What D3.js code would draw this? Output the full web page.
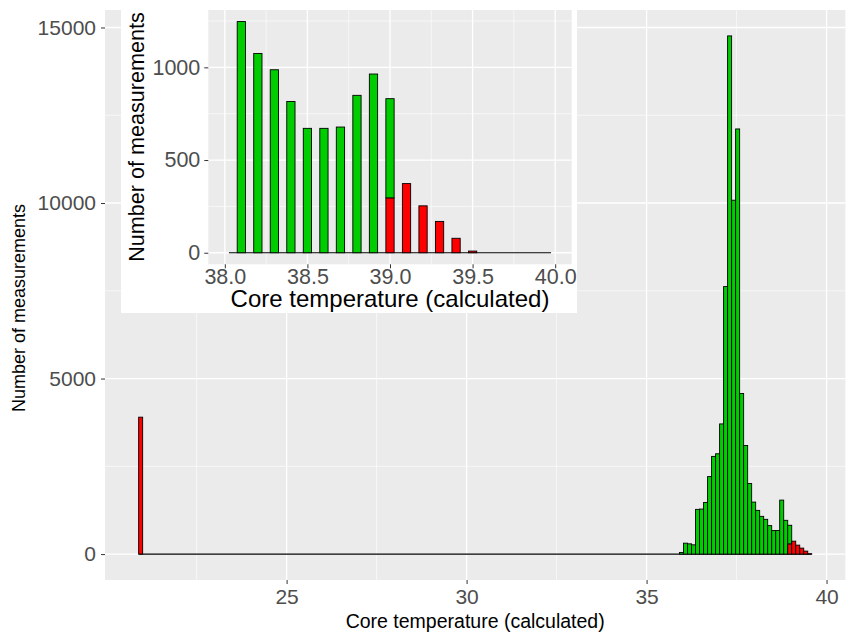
<!DOCTYPE html>
<html>
<head>
<meta charset="utf-8">
<script src="https://cdn.jsdelivr.net/npm/d3@7"></script>
<style>
    body { margin: 0; background: #fff; }
    svg { display: block; font-family: "Liberation Sans", Arial, sans-serif; }
</style>
</head>
<body>
<div id="chart"></div>
<script>
// main histogram: bins of equal width, starting at the lowest reading
const MAIN_BIN_START = 20.89;
const MAIN_BIN_WIDTH = 0.1113;
const MAIN_BIN_COUNT = 168;

// the single bin of implausible low readings (bin 0)
const lowBinIndex = [0];
const lowBinRed = [3900];

// the bins around normal body temperature, first one is bin 135
const TAIL_FIRST_BIN = 135;
const tailGreen = [47, 311, 292, 264, 1274, 1283, 1472, 2208, 2783, 2858, 3708, 7620, 14760, 10080,
    12110, 4575, 3094, 2009, 1481, 1245, 1075, 990, 811, 670, 670, 1538, 962, 529, 0, 0, 0, 0, 0];
const tailRed = [0, 0, 0, 0, 0, 0, 0, 0, 0, 0, 0, 0, 0, 0,
    0, 0, 0, 0, 0, 0, 0, 0, 0, 0, 0, 0, 0, 292, 368, 255, 170, 85, 10];

const mainXTicks = [25, 30, 35, 40];
const mainYTicks = [0, 5000, 10000, 15000];

// inset: zoom on 38 - 40 degrees, bins 0.05 wide
const INSET_BIN_WIDTH = 0.05;
const INSET_RANGE = [38.025, 39.975];
const insetTemps = [38.1, 38.2, 38.3, 38.4, 38.5, 38.6, 38.7, 38.8, 38.9, 39.0, 39.1, 39.2, 39.3, 39.4, 39.5];
const insetGreen = [1247, 1075, 987, 816, 671, 671, 678, 849, 964, 535, 0, 0, 0, 0, 0];
const insetRed = [0, 0, 0, 0, 0, 0, 0, 0, 0, 296, 373, 253, 169, 78, 9];

const insetXTicks = [38.0, 38.5, 39.0, 39.5, 40.0];
const insetYTicks = [0, 500, 1000];

const GREEN = '#00cd00';
const RED = '#ff0000';
const PANEL = '#ebebeb';

const W = 847, H = 632;

let svg = d3.select('#chart').append('svg')
    .attr('width', W)
    .attr('height', H);

// ggplot style 5% padding on a continuous range
let expand = (lo, hi) => {
    let d = (hi - lo) * 0.05;
    return [lo - d, hi + d];
};

// draws one histogram panel (grid, bars, baseline, axes)
let drawPanel = (g, opt) => {
    let x = d3.scaleLinear().domain(opt.xDomain).range([opt.left, opt.right]);
    let y = d3.scaleLinear().domain(opt.yDomain).range([opt.bottom, opt.top]);

    g.append('rect')
        .attr('x', opt.left).attr('y', opt.top)
        .attr('width', opt.right - opt.left).attr('height', opt.bottom - opt.top)
        .attr('fill', PANEL);

    // minor grid lines halfway between the breaks
    let minorX = d3.pairs(opt.xTicks).map(p => (p[0] + p[1]) / 2);
    let minorY = d3.pairs(opt.yTicks).map(p => (p[0] + p[1]) / 2);
    minorY.push(opt.yTicks[opt.yTicks.length - 1] + (opt.yTicks[1] - opt.yTicks[0]) / 2);
    minorX.unshift(opt.xTicks[0] - (opt.xTicks[1] - opt.xTicks[0]) / 2);

    let inX = v => x(v) >= opt.left && x(v) <= opt.right;
    let inY = v => y(v) >= opt.top && y(v) <= opt.bottom;

    g.selectAll(null).data(minorX.filter(inX)).join('line')
        .attr('x1', d => x(d)).attr('x2', d => x(d))
        .attr('y1', opt.top).attr('y2', opt.bottom)
        .attr('stroke', '#fff').attr('stroke-width', 0.6);
    g.selectAll(null).data(minorY.filter(inY)).join('line')
        .attr('y1', d => y(d)).attr('y2', d => y(d))
        .attr('x1', opt.left).attr('x2', opt.right)
        .attr('stroke', '#fff').attr('stroke-width', 0.6);
    g.selectAll(null).data(opt.xTicks.filter(inX)).join('line')
        .attr('x1', d => x(d)).attr('x2', d => x(d))
        .attr('y1', opt.top).attr('y2', opt.bottom)
        .attr('stroke', '#fff').attr('stroke-width', 1.3);
    g.selectAll(null).data(opt.yTicks.filter(inY)).join('line')
        .attr('y1', d => y(d)).attr('y2', d => y(d))
        .attr('x1', opt.left).attr('x2', opt.right)
        .attr('stroke', '#fff').attr('stroke-width', 1.3);

    // zero height bins show up as a black line along the bottom
    g.append('line')
        .attr('x1', x(opt.baseline[0])).attr('x2', x(opt.baseline[1]))
        .attr('y1', y(0)).attr('y2', y(0))
        .attr('stroke', '#000').attr('stroke-width', 1.1);

    // red stacked at the bottom, green on top of it
    let bars = [];
    opt.bins.forEach(b => {
        if (b.red > 0) bars.push({x0: b.x0, x1: b.x1, y0: 0, y1: b.red, fill: RED});
        if (b.green > 0) bars.push({x0: b.x0, x1: b.x1, y0: b.red, y1: b.red + b.green, fill: GREEN});
    });
    g.selectAll(null).data(bars).join('rect')
        .attr('x', d => x(d.x0))
        .attr('width', d => x(d.x1) - x(d.x0))
        .attr('y', d => y(d.y1))
        .attr('height', d => y(d.y0) - y(d.y1))
        .attr('fill', d => d.fill)
        .attr('stroke', '#000')
        .attr('stroke-width', 0.9);

    // axes
    let ax = g.append('g')
        .attr('transform', 'translate(0,' + opt.bottom + ')')
        .call(d3.axisBottom(x).tickValues(opt.xTicks).tickSize(opt.tickLen).tickPadding(opt.xPad)
            .tickFormat(opt.xFormat));
    let ay = g.append('g')
        .attr('transform', 'translate(' + opt.left + ',0)')
        .call(d3.axisLeft(y).tickValues(opt.yTicks).tickSize(opt.tickLen).tickPadding(opt.yPad)
            .tickFormat(d3.format('d')));
    [ax, ay].forEach(a => {
        a.select('.domain').remove();
        a.selectAll('line').attr('stroke', '#333');
        a.selectAll('text')
            .attr('fill', '#4d4d4d')
            .style('font-size', opt.tickFont + 'px')
            .style('font-family', '"Liberation Sans", Arial, sans-serif');
    });

    // titles
    g.append('text')
        .attr('x', (opt.left + opt.right) / 2)
        .attr('y', opt.xTitleY)
        .attr('text-anchor', 'middle')
        .style('font-size', opt.xTitleFont + 'px')
        .attr('fill', '#000')
        .text('Core temperature (calculated)');
    g.append('text')
        .attr('transform', 'translate(' + opt.yTitleX + ',' + opt.yTitleCenter + ') rotate(-90)')
        .attr('text-anchor', 'middle')
        .style('font-size', opt.yTitleFont + 'px')
        .attr('fill', '#000')
        .text('Number of measurements');
};

// ---- main chart ----
let mainBins = [];
lowBinIndex.forEach((bi, i) => {
    mainBins.push({x0: MAIN_BIN_START + bi * MAIN_BIN_WIDTH, x1: MAIN_BIN_START + (bi + 1) * MAIN_BIN_WIDTH,
        green: 0, red: lowBinRed[i]});
});
tailGreen.forEach((v, i) => {
    let bi = TAIL_FIRST_BIN + i;
    mainBins.push({x0: MAIN_BIN_START + bi * MAIN_BIN_WIDTH, x1: MAIN_BIN_START + (bi + 1) * MAIN_BIN_WIDTH,
        green: v, red: tailRed[i]});
});
let mainEnd = MAIN_BIN_START + MAIN_BIN_COUNT * MAIN_BIN_WIDTH;
let mainMax = d3.max(mainBins, b => b.green + b.red);

drawPanel(svg.append('g'), {
    left: 105, right: 845.4, top: 10, bottom: 580,
    xDomain: expand(MAIN_BIN_START, mainEnd),
    yDomain: expand(0, mainMax),
    xTicks: mainXTicks, yTicks: mainYTicks,
    baseline: [MAIN_BIN_START, mainEnd],
    bins: mainBins,
    tickLen: 4, xPad: 5, yPad: 5,
    xFormat: d3.format('d'),
    tickFont: 21, xTitleFont: 19.5, yTitleFont: 18,
    xTitleY: 628, yTitleX: 25, yTitleCenter: 308
});

// ---- inset ----
let inset = svg.append('g');
inset.append('rect')
    .attr('x', 121).attr('y', 4)
    .attr('width', 577 - 121).attr('height', 313 - 4)
    .attr('fill', '#fff');

let insetBins = insetTemps.map((t, i) => ({
    x0: t - INSET_BIN_WIDTH / 2, x1: t + INSET_BIN_WIDTH / 2,
    green: insetGreen[i], red: insetRed[i]
}));
let insetMax = d3.max(insetBins, b => b.green + b.red);

drawPanel(inset, {
    left: 208.3, right: 571.7, top: 10, bottom: 264.3,
    xDomain: expand(38, 40),
    yDomain: expand(0, insetMax),
    xTicks: insetXTicks, yTicks: insetYTicks,
    baseline: INSET_RANGE,
    bins: insetBins,
    tickLen: 4, xPad: 0, yPad: 4,
    xFormat: d3.format('.1f'),
    tickFont: 21.5, xTitleFont: 24, yTitleFont: 21.6,
    xTitleY: 307, yTitleX: 143.5, yTitleCenter: 137
});
</script>
</body>
</html>
